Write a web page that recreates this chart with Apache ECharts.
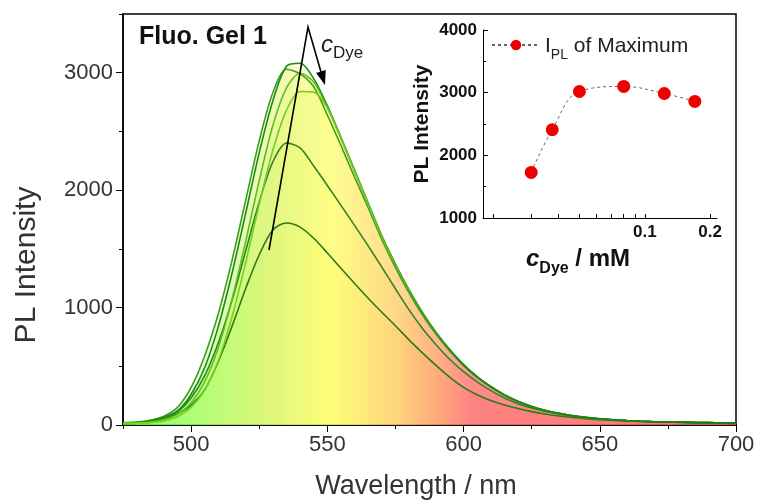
<!DOCTYPE html>
<html><head><meta charset="utf-8">
<script src="https://cdn.jsdelivr.net/npm/echarts@6/dist/echarts.min.js"></script>
<style>html,body{margin:0;padding:0;background:#fff}#c{width:761px;height:504px}</style>
</head><body><div id="c"></div>
<script>
// ---- data ----
const wavelength = [475,480,485,490,495,500,505,510,515,520,525,530,535,540,545,550,555,560,565,570,575,580,585,590,595,600,605,610,615,620,625,630,635,640,645,650,655,660,665,670,675,680,685,690,695,700];
const spec1 = [12,15,25,50,95,170,300,540,840,1160,1450,1660,1720,1685,1590,1465,1335,1205,1080,960,845,725,612,505,405,320,258,208,170,140,114,93,77,64,54,46,39,34,30,27,24,22,20,19,18,17];
const spec2 = [15,18,28,55,110,230,420,700,1060,1480,1900,2240,2400,2360,2205,2040,1870,1700,1525,1345,1160,980,820,682,558,455,368,293,230,182,144,116,94,77,63,52,44,37,32,28,25,23,21,20,19,18];
const spec3 = [20,25,40,75,150,320,590,950,1400,1910,2420,2830,3030,2990,2880,2640,2380,2110,1850,1580,1340,1125,935,770,628,505,405,322,252,197,155,122,98,78,63,52,43,36,31,27,24,22,20,19,18,17];
const spec4 = [18,22,35,65,120,260,490,840,1290,1800,2320,2760,3055,3080,2950,2720,2450,2170,1890,1610,1370,1150,955,785,640,515,413,328,258,202,158,125,100,80,65,53,44,37,32,28,25,23,21,20,19,18];
const spec5 = [15,18,25,45,90,190,370,660,1070,1560,2080,2550,2870,2995,2920,2700,2440,2160,1880,1605,1365,1148,952,782,637,512,410,326,256,201,157,124,99,79,64,53,44,37,32,28,25,23,21,20,19,18];
const spec6 = [12,15,20,35,70,150,300,550,920,1380,1880,2340,2680,2840,2835,2700,2440,2160,1880,1600,1360,1145,950,780,636,510,408,325,256,200,157,124,99,79,64,53,44,37,32,28,25,23,21,20,19,18];
const conc = [0.03,0.0375,0.05,0.08,0.123,0.17];
const peakIntensity = [1727,2408,3019,3099,2987,2860];
const xTickLabels = [500,550,600,650,700];
const yTickLabels = [0,1000,2000,3000];
const insetYTicks = [1000,2000,3000,4000];
const insetXLabels = [0.1,0.2];
const insetXTicks = [0.02,0.03,0.04,0.05,0.06,0.07,0.08,0.09,0.1,0.2];

const FONT = 'Liberation Sans, Arial, sans-serif';
const spectra = [spec1,spec2,spec3,spec4,spec5,spec6];
const lineColors = [
  '#2b7a1c','#2f8520','#3c9e1e','#1f8a12',
  new echarts.graphic.LinearGradient(0,0,1,0,[{offset:0,color:'#5cc814'},{offset:0.4,color:'#5cb820'},{offset:0.55,color:'#2a8a16'},{offset:1,color:'#1a7a10'}]),
  new echarts.graphic.LinearGradient(0,0,1,0,[{offset:0,color:'#77d814'},{offset:0.4,color:'#78c428'},{offset:0.55,color:'#2a8a16'},{offset:1,color:'#1a7a10'}])
];
function fillGrad(){
  return new echarts.graphic.LinearGradient(0,0,1,0,[
    {offset:0,color:'#66ff55'},{offset:0.11,color:'#a0ff60'},{offset:0.24,color:'#daf566'},
    {offset:0.34,color:'#ffff66'},{offset:0.45,color:'#ffcc66'},{offset:0.52,color:'#ff9966'},
    {offset:0.57,color:'#ff6f6f'},{offset:1,color:'#ff5f5f'}]);
}
const mainSeries = spectra.map((s,i)=>({
  type:'line', xAxisIndex:0, yAxisIndex:0, smooth:0.3, symbol:'none', silent:true,
  data: wavelength.map((w,j)=>[w, s[j]]),
  lineStyle:{color:lineColors[i], width:1.6},
  areaStyle:{color:fillGrad(), opacity:0.28},
  z:2
}));

const chart = echarts.init(document.getElementById('c'));
chart.setOption({
  animation:false,
  grid:[
    {left:123, right:25, top:14, bottom:79, show:true, borderColor:'#000', borderWidth:1.5, backgroundColor:'transparent'},
    {left:483, right:44, top:30, bottom:286}
  ],
  xAxis:[
    {gridIndex:0, type:'value', min:475, max:700, interval:25,
     axisLine:{lineStyle:{color:'#000', width:1.5}},
     axisTick:{show:true, length:4, lineStyle:{color:'#000'}},
     axisLabel:{margin:9, fontFamily:FONT, fontSize:22, color:'#333',
       formatter:v=> xTickLabels.includes(v) ? String(v) : ''},
     splitLine:{show:false}},
    {gridIndex:0, type:'value', min:475, max:700, position:'bottom',
     axisLine:{show:false}, axisLabel:{show:false}, splitLine:{show:false},
     axisTick:{show:true, length:7, customValues:xTickLabels, lineStyle:{color:'#000'}}},
    {gridIndex:1, type:'log', logBase:10, min:0.018, max:0.215,
     axisLine:{lineStyle:{color:'#000', width:1}},
     axisTick:{show:true, inside:true, length:4, customValues:insetXTicks, lineStyle:{color:'#000'}},
     axisLabel:{customValues:insetXLabels, margin:6, fontFamily:FONT, fontSize:17, fontWeight:'bold', color:'#111',
       formatter:v=>String(Math.round(v*10)/10)},
     splitLine:{show:false}, minorTick:{show:false}}
  ],
  yAxis:[
    {gridIndex:0, type:'value', min:0, max:3500, interval:500,
     axisLine:{lineStyle:{color:'#000', width:1.5}},
     axisTick:{show:true, length:4, lineStyle:{color:'#000'}},
     axisLabel:{margin:10, fontFamily:FONT, fontSize:22, color:'#333',
       formatter:v=> yTickLabels.includes(v) ? String(v) : ''},
     splitLine:{show:false}},
    {gridIndex:0, type:'value', min:0, max:3500, position:'left',
     axisLine:{show:false}, axisLabel:{show:false}, splitLine:{show:false},
     axisTick:{show:true, length:7, customValues:yTickLabels, lineStyle:{color:'#000'}}},
    {gridIndex:1, type:'value', min:1000, max:4000, interval:1000,
     axisLine:{lineStyle:{color:'#000', width:1}},
     axisTick:{show:true, inside:true, length:5, lineStyle:{color:'#000'}},
     minorTick:{show:true, splitNumber:2, length:3, lineStyle:{color:'#000'}},
     axisLabel:{margin:6, fontFamily:FONT, fontSize:17, fontWeight:'bold', color:'#111',
       formatter:v=> insetYTicks.includes(v) ? String(v) : ''},
     splitLine:{show:false},
     name:'PL Intensity', nameLocation:'middle', nameGap:50,
     nameTextStyle:{fontFamily:FONT, fontSize:21, fontWeight:'bold', color:'#111'}}
  ],
  legend:{
    data:['IPL'], left:486, top:31, itemWidth:48, itemHeight:13, itemGap:6,
    formatter:()=> '{i|I}{s|PL}{t| of Maximum}',
    textStyle:{rich:{
      i:{fontFamily:FONT, fontSize:21, color:'#222', lineHeight:24, verticalAlign:'bottom'},
      s:{fontFamily:FONT, fontSize:14, color:'#222', lineHeight:24, verticalAlign:'bottom', padding:[0,0,-5,0]},
      t:{fontFamily:FONT, fontSize:21, color:'#222', lineHeight:24, verticalAlign:'bottom'}}}
  },
  series: mainSeries.concat([{
    name:'IPL', type:'line', xAxisIndex:2, yAxisIndex:2, smooth:0.4,
    data: conc.map((c,i)=>[c, peakIntensity[i]]),
    symbol:'circle', symbolSize:13,
    itemStyle:{color:'#ee0000'},
    lineStyle:{color:'#666', width:1, type:[3,3]},
    z:5
  }]),
  graphic:[
    {type:'text', x:27, y:265, rotation:Math.PI/2, style:{text:'PL Intensity', font:'30px '+FONT, fill:'#333', align:'center', verticalAlign:'middle'}},
    {type:'text', x:416, y:487, style:{text:'Wavelength / nm', font:'27px '+FONT, fill:'#333', align:'center', verticalAlign:'middle'}},
    {type:'text', x:578, y:258, style:{text:'{c|c}{d|Dye}{m| / mM}', align:'center', verticalAlign:'middle', rich:{
       c:{font:'italic bold 24px '+FONT, fill:'#111', lineHeight:26, verticalAlign:'bottom'},
       d:{font:'bold 16px '+FONT, fill:'#111', lineHeight:26, verticalAlign:'bottom', padding:[0,0,-6,0]},
       m:{font:'bold 24px '+FONT, fill:'#111', lineHeight:26, verticalAlign:'bottom'}}}},
    {type:'text', left:139, top:25, style:{text:'Fluo. Gel 1', font:'bold 25px '+FONT, fill:'#111'}},
    {type:'text', left:321, top:33, style:{text:'{c|c}{d|Dye}', rich:{
      c:{font:'italic 24px '+FONT, fill:'#222', lineHeight:26, verticalAlign:'bottom'},
      d:{font:'17px '+FONT, fill:'#222', lineHeight:26, verticalAlign:'bottom', padding:[0,0,-5,0]}}}},
    {type:'polyline', shape:{points:[[269,250],[308,27],[321,72]]}, style:{stroke:'#000', lineWidth:1.6, fill:null}, z:10},
    {type:'polygon', shape:{points:[[325,85],[325.7,70],[316.1,73]]}, style:{fill:'#000'}, z:10}
  ]
});
</script></body></html>
